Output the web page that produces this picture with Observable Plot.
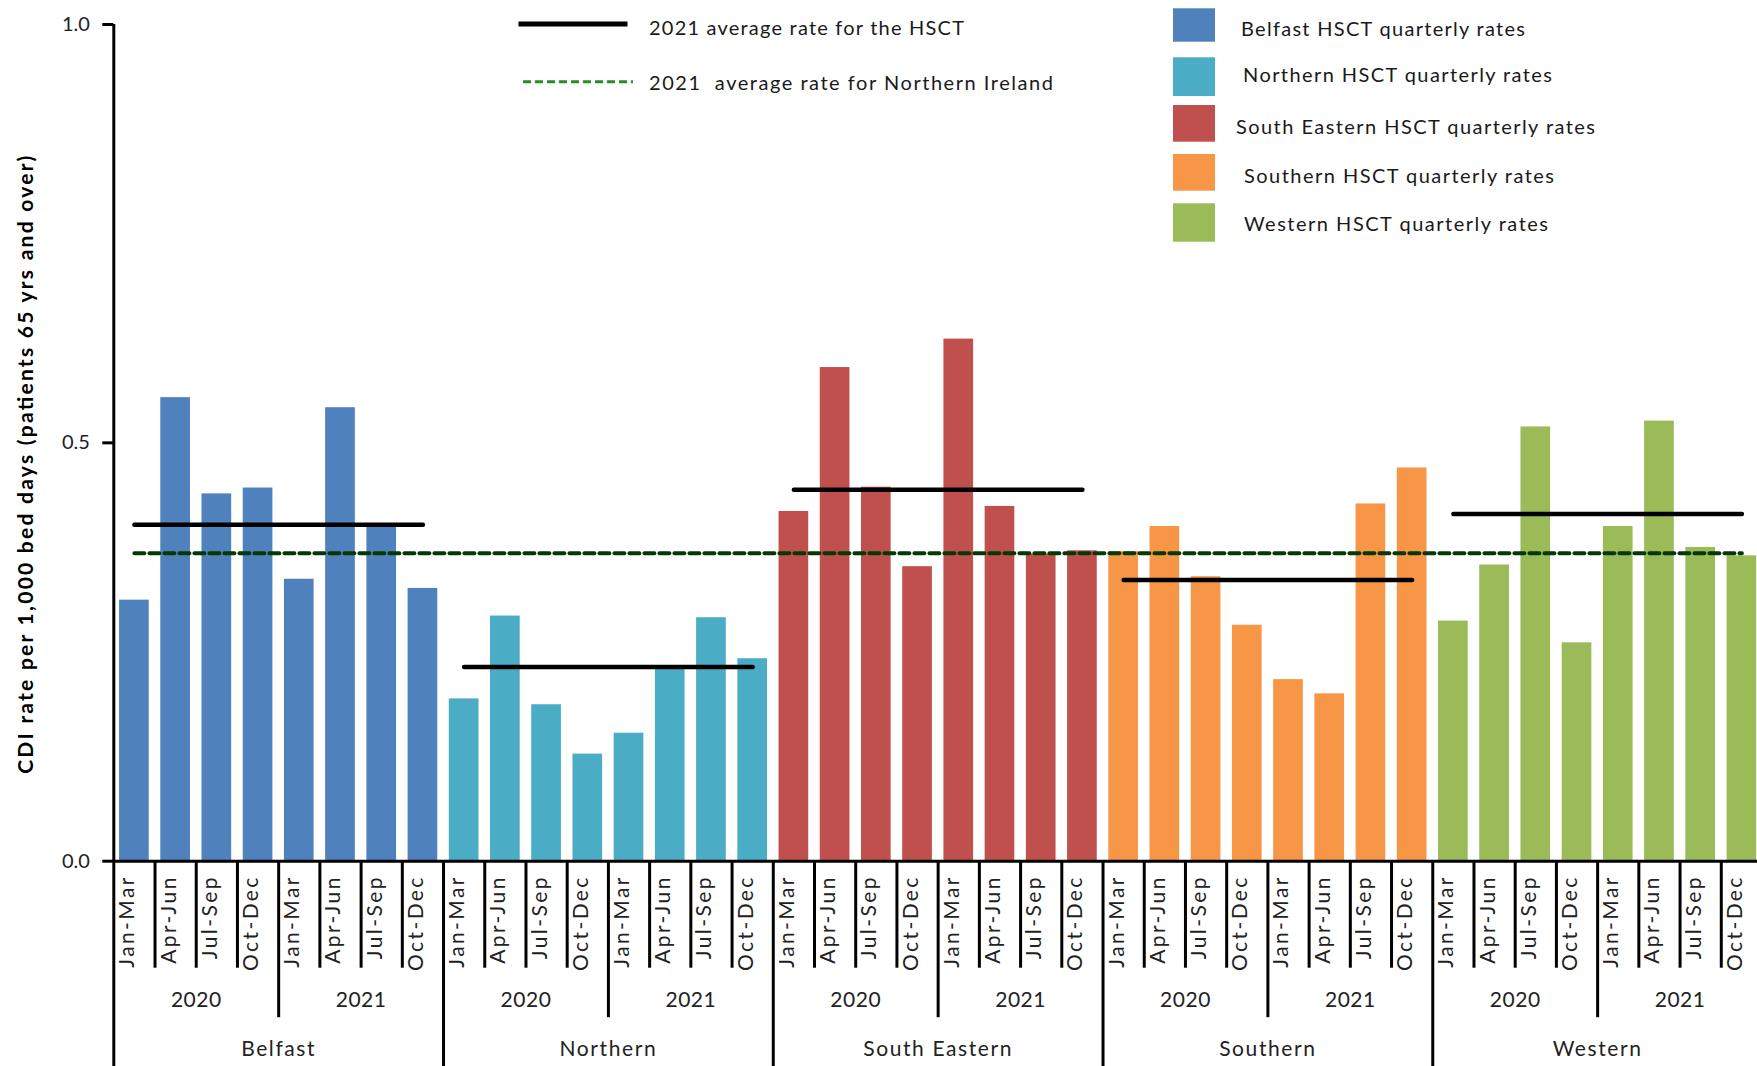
<!DOCTYPE html>
<html>
<head>
<meta charset="utf-8">
<script src="https://cdn.jsdelivr.net/npm/d3@7"></script>
<script src="https://cdn.jsdelivr.net/npm/@observablehq/plot@0.6"></script>
<style>
  html, body { margin: 0; padding: 0; background: #fff; overflow: hidden; }
  #wrap { position: relative; width: 1757px; height: 1066px; }
  #legend { position: absolute; left: 0; top: 0; }
  #legend text { font-family: Lato, "Open Sans", sans-serif; font-size: 20px; fill: #1a1a1a; white-space: pre; }
  #wrap g[aria-label^="y-axis"] path, #wrap g[aria-label^="y-axis"] line { stroke-width: 3px; stroke: #000; }
</style>
</head>
<body>
<div id="wrap"></div>
<script>
// ---------- data ----------
const trusts = ["Belfast", "Northern", "South Eastern", "Southern", "Western"];
const years = ["2020", "2021"];
const quarters = ["Jan-Mar", "Apr-Jun", "Jul-Sep", "Oct-Dec"];

const belfastRates      = [0.312, 0.554, 0.439, 0.446, 0.337, 0.542, 0.399, 0.326];
const northernRates     = [0.194, 0.293, 0.187, 0.128, 0.153, 0.230, 0.291, 0.242];
const southEasternRates = [0.418, 0.590, 0.447, 0.352, 0.624, 0.424, 0.367, 0.371];
const southernRates     = [0.370, 0.400, 0.340, 0.282, 0.217, 0.200, 0.427, 0.470];
const westernRates      = [0.287, 0.354, 0.519, 0.261, 0.400, 0.526, 0.375, 0.365];

const trustAverage2021 = [0.402, 0.232, 0.444, 0.336, 0.415];
const niAverage2021 = 0.368;

const trustColors = ["#4F81BD", "#4BACC6", "#C0504D", "#F79646", "#9BBB59"];
const yTitle = "CDI rate per 1,000 bed days (patients 65 yrs and over)";
const legendHSCT = "2021 average rate for the HSCT";
const legendNI = "2021  average rate for Northern Ireland";

// ---------- table ----------
const ratesByTrust = [belfastRates, northernRates, southEasternRates, southernRates, westernRates];
const rows = [];
trusts.forEach((trust, ti) => {
  years.forEach((year, yi) => {
    quarters.forEach((quarter, qi) => {
      rows.push({key: `${trust}|${year}|${quarter}`, trust, year, quarter, rate: ratesByTrust[ti][yi * 4 + qi]});
    });
  });
});
const keys = rows.map(d => d.key);
const avgRows = [];
trusts.forEach((trust, ti) => {
  avgRows.push({trust, key: `${trust}|2020|Jan-Mar`, v: trustAverage2021[ti]});
  avgRows.push({trust, key: `${trust}|2021|Oct-Dec`, v: trustAverage2021[ti]});
});
const niRows = [{key: keys[0], v: niAverage2021}, {key: keys[keys.length - 1], v: niAverage2021}];

// ---------- layout ----------
const W = 1757, H = 1066;
const mL = 113.3, mT = 24, mB = H - 860.7, mR = -5;
const step = (W - mR - mL) / keys.length;
const frameH = H - mT - mB;

const chart = Plot.plot({
  width: W,
  height: H,
  marginLeft: mL,
  marginRight: mR,
  marginTop: mT,
  marginBottom: mB,
  style: {fontFamily: "Lato, 'Open Sans', sans-serif", fontSize: "20px", color: "#222", background: "white"},
  x: {domain: keys, axis: null, paddingInner: 0.28, paddingOuter: 0.14, round: false},
  y: {domain: [0, 1], ticks: 2, tickFormat: ".1f", tickSize: 11, tickPadding: 13, label: null},
  color: {domain: trusts, range: trustColors},
  marks: [
    Plot.barY(rows, {x: "key", y: "rate", fill: "trust"}),
    Plot.ruleY([0], {stroke: "#000", strokeWidth: 3}),
    // y-axis line running down through the category axis
    Plot.ruleX([keys[0]], {x: d => d, dx: -step / 2, insetBottom: -mB, stroke: "#000", strokeWidth: 3}),
    // quarter separators
    Plot.ruleX(rows.filter(d => d.quarter !== "Jan-Mar"), {x: "key", dx: -step / 2, insetTop: frameH, insetBottom: -107, stroke: "#000", strokeWidth: 3}),
    // year separators
    Plot.ruleX(rows.filter(d => d.quarter === "Jan-Mar" && d.year === "2021"), {x: "key", dx: -step / 2, insetTop: frameH, insetBottom: -156.5, stroke: "#000", strokeWidth: 3}),
    // trust separators
    Plot.ruleX(rows.filter(d => d.quarter === "Jan-Mar" && d.year === "2020" && d.trust !== trusts[0]), {x: "key", dx: -step / 2, insetTop: frameH, insetBottom: -mB, stroke: "#000", strokeWidth: 3}),
    // quarter labels
    Plot.text(rows, {x: "key", text: "quarter", frameAnchor: "bottom", dy: 14, rotate: -90, textAnchor: "end", fontSize: 21, fill: "#222"}),
    // year labels
    Plot.text(rows.filter(d => d.quarter === "Jul-Sep"), {x: "key", text: "year", frameAnchor: "bottom", dx: -step / 2, dy: 146, fontSize: 21, fill: "#222"}),
    // trust labels
    Plot.text(rows.filter(d => d.quarter === "Jan-Mar" && d.year === "2021"), {x: "key", text: "trust", frameAnchor: "bottom", dx: -step / 2, dy: 194.5, fontSize: 21, fill: "#222"}),
    // NI average dashed line
    Plot.lineY(niRows, {x: "key", y: "v", stroke: "#063806", strokeWidth: 4, strokeDasharray: "10,5"}),
    // HSCT average lines
    Plot.lineY(avgRows, {x: "key", y: "v", z: "trust", stroke: "#000", strokeWidth: 4.5, strokeLinecap: "round"}),
    // y-axis title
    Plot.text([yTitle], {text: d => d, frameAnchor: "left", textAnchor: "middle", dx: -88, dy: 22, rotate: -90, fontWeight: "bold", fontSize: 21, fill: "#000"})
  ]
});
document.getElementById("wrap").appendChild(chart);

// text spacing tweaks (groups in mark order: quarter, year, trust, title)
const textGroups = chart.querySelectorAll('g[aria-label="text"]');
if (textGroups.length >= 4) {
  textGroups[0].style.letterSpacing = "2.4px";
  textGroups[1].style.letterSpacing = "0.5px";
  textGroups[2].style.letterSpacing = "1.6px";
  textGroups[3].querySelectorAll("text").forEach(t => {
    t.setAttribute("textLength", 618);
    t.setAttribute("lengthAdjust", "spacing");
  });
}

// ---------- legend (overlay) ----------
const NS = "http://www.w3.org/2000/svg";
const lg = document.createElementNS(NS, "svg");
lg.setAttribute("id", "legend");
lg.setAttribute("width", W);
lg.setAttribute("height", 260);
function el(tag, attrs, text) {
  const e = document.createElementNS(NS, tag);
  for (const k in attrs) e.setAttribute(k, attrs[k]);
  if (text != null) e.textContent = text;
  lg.appendChild(e);
  return e;
}
el("line", {x1: 518.5, x2: 627.5, y1: 24, y2: 24, stroke: "#000", "stroke-width": 5});
el("text", {x: 649, y: 34.5, textLength: 315, lengthAdjust: "spacing"}, legendHSCT);
el("line", {x1: 523, x2: 633, y1: 81.7, y2: 81.7, stroke: "#2a8a2a", "stroke-width": 3, "stroke-dasharray": "8,4"});
el("text", {x: 649, y: 89.5, textLength: 404, lengthAdjust: "spacing"}, legendNI);
const sq = [[8.3, 41.7], [57.3, 96], [105, 141.7], [154, 190.7], [203.3, 241.7]];
const tx = [1241, 1243, 1236, 1244, 1244];
const tw = [284, 309, 359, 310, 304];
const tb = [36, 81.7, 134, 183.3, 230.7];
trusts.forEach((t, i) => {
  el("rect", {x: 1173, y: sq[i][0], width: 42, height: sq[i][1] - sq[i][0], fill: trustColors[i]});
  el("text", {x: tx[i], y: tb[i], textLength: tw[i], lengthAdjust: "spacing"}, `${t} HSCT quarterly rates`);
});
document.getElementById("wrap").appendChild(lg);
</script>
</body>
</html>
